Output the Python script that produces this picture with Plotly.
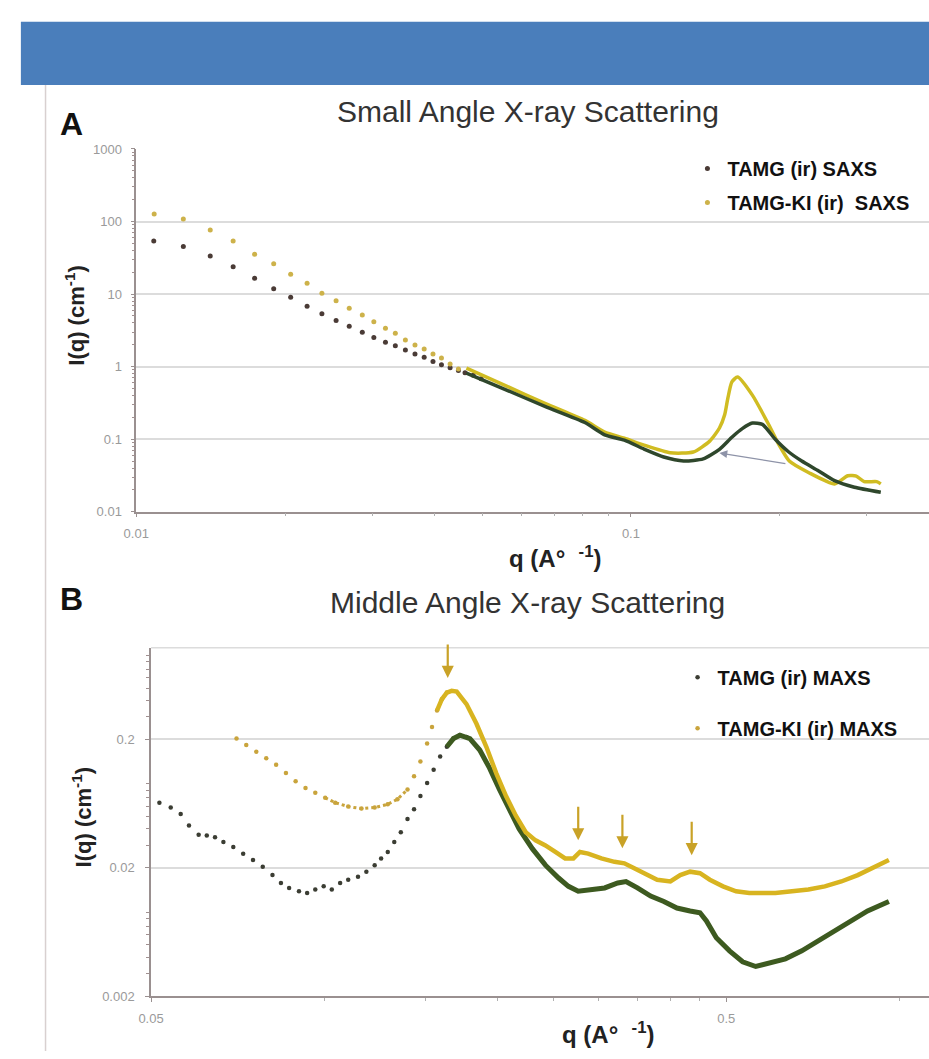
import numpy as np
import plotly.graph_objects as go

# ---------------- DATA ----------------
# Panel A: Small Angle X-ray Scattering (SAXS)
saxs_q_dots_tamg = [0.01085, 0.01245, 0.01411, 0.01570, 0.01735, 0.01896, 0.02052, 0.02215, 0.02373,
                    0.02535, 0.02695, 0.02864, 0.03022, 0.0319, 0.0334, 0.0350, 0.0366, 0.0382,
                    0.0398, 0.0414, 0.0431, 0.0448, 0.0462, 0.0480, 0.0498]
saxs_I_dots_tamg = [53.8, 45.4, 33.6, 23.8, 16.5, 11.8, 9.02, 6.8, 5.35, 4.33, 3.59, 2.97, 2.52, 2.17,
                    1.94, 1.69, 1.49, 1.35, 1.18, 1.06, 0.963, 0.888, 0.823, 0.759, 0.682]
saxs_q_dots_tamgki = [0.01087, 0.01245, 0.01411, 0.01570, 0.01735, 0.01896, 0.02052, 0.02215, 0.02373,
                      0.02535, 0.02695, 0.02864, 0.03022, 0.0319, 0.0334, 0.0350, 0.0366, 0.0382,
                      0.0398, 0.0414, 0.0431, 0.0448]
saxs_I_dots_tamgki = [126.5, 108, 76.6, 53.8, 35.3, 26.2, 18.7, 14.1, 10.3, 8.1, 6.4, 5.13, 4.16, 3.37,
                      2.88, 2.32, 1.98, 1.75, 1.49, 1.31, 1.09, 0.93]
saxs_q_line_tamg = [0.0465, 0.0559, 0.0672, 0.0807, 0.0885, 0.0970, 0.1063, 0.1165, 0.1278, 0.140,
                    0.151, 0.160, 0.1682, 0.176, 0.1844, 0.196, 0.2085, 0.2215, 0.2392, 0.258, 0.283, 0.32]
saxs_I_line_tamg = [0.816, 0.479, 0.281, 0.170, 0.115, 0.0969, 0.0731, 0.0569, 0.0502, 0.0535,
                    0.0724, 0.1065, 0.141, 0.1667, 0.160, 0.099, 0.0666, 0.050, 0.0367, 0.0268, 0.0218, 0.0186]
saxs_q_line_tamgki = [0.0465, 0.0559, 0.0672, 0.0807, 0.0885, 0.097, 0.1063, 0.120, 0.1337, 0.1443,
                      0.151, 0.1547, 0.157, 0.160, 0.1643, 0.176, 0.190, 0.199, 0.209, 0.2285, 0.258,
                      0.2745, 0.2855, 0.2962, 0.3138, 0.32]
saxs_I_line_tamgki = [0.955, 0.543, 0.309, 0.1815, 0.125, 0.103, 0.0828, 0.065, 0.0666, 0.094,
                      0.1426, 0.217, 0.365, 0.615, 0.72, 0.405, 0.158, 0.0847, 0.050, 0.0348, 0.0242,
                      0.0314, 0.031, 0.026, 0.026, 0.0242]
saxs_arrow_head = (0.151, 0.0646)
saxs_arrow_tail = (0.2067, 0.0457)

# Panel B: Middle Angle X-ray Scattering (MAXS)
maxs_q_tamg = [0.0517, 0.0541, 0.0563, 0.0582, 0.0605, 0.0625, 0.0646, 0.0668, 0.0695, 0.0723,
               0.0752, 0.0782, 0.0813, 0.0841, 0.0869, 0.0904, 0.0934, 0.0965, 0.0998, 0.1031,
               0.1066, 0.1101, 0.1145, 0.1184, 0.1224, 0.1256, 0.1290, 0.1324, 0.1359, 0.1396,
               0.1433, 0.1470, 0.1510, 0.1550, 0.1591, 0.1634, 0.1678, 0.1722, 0.1768, 0.1792,
               0.1864, 0.1939, 0.2017, 0.2098, 0.2183, 0.2301, 0.2425, 0.2556, 0.2659, 0.2765,
               0.2916, 0.3073, 0.3239, 0.3348, 0.3505, 0.3695, 0.3896, 0.4105, 0.4327, 0.4502,
               0.4620, 0.4806, 0.5067, 0.5340, 0.5628, 0.5934, 0.6338, 0.6768, 0.7229, 0.7720,
               0.8245, 0.8806, 0.9591]
maxs_I_tamg = [0.0641, 0.0587, 0.0522, 0.0425, 0.0360, 0.0356, 0.0345, 0.0316, 0.0289, 0.0257,
               0.0229, 0.0203, 0.0175, 0.0152, 0.0139, 0.0131, 0.0127, 0.0135, 0.0143, 0.0135,
               0.0152, 0.0161, 0.0170, 0.0186, 0.0209, 0.0236, 0.0265, 0.0316, 0.0377, 0.0478,
               0.0570, 0.0721, 0.0912, 0.1156, 0.1463, 0.1745, 0.2021, 0.2147, 0.2083, 0.2021,
               0.1647, 0.1190, 0.0812, 0.0570, 0.0400, 0.0281, 0.0209, 0.0166, 0.0143, 0.0131,
               0.0135, 0.0139, 0.0152, 0.0156, 0.0139, 0.0120, 0.0109, 0.0097, 0.0092, 0.0089,
               0.0077, 0.0057, 0.0045, 0.0037, 0.0034, 0.0036, 0.0039, 0.0045, 0.0054, 0.0064,
               0.0077, 0.0092, 0.0109]
maxs_q_tamgki = [0.0704, 0.0732, 0.0762, 0.0793, 0.0825, 0.0858, 0.0892, 0.0928, 0.0965, 0.1004,
                 0.1045, 0.1101, 0.1161, 0.1224, 0.1290, 0.1341, 0.1396, 0.1433, 0.1470, 0.1510,
                 0.1540, 0.1571, 0.1602, 0.1634, 0.1666, 0.1700, 0.1768, 0.1840, 0.1914, 0.1991,
                 0.2071, 0.2154, 0.2241, 0.2331, 0.2425, 0.2523, 0.2624, 0.2712, 0.2784, 0.2877,
                 0.3034, 0.3197, 0.3326, 0.3460, 0.3599, 0.3793, 0.3999, 0.4160, 0.4327, 0.4502,
                 0.4683, 0.4936, 0.5201, 0.5484, 0.5779, 0.6090, 0.6507, 0.6950, 0.7421, 0.7927,
                 0.8467, 0.9039, 0.9591]
maxs_I_tamgki = [0.2021, 0.1799, 0.1598, 0.1420, 0.1264, 0.1089, 0.0941, 0.0835, 0.0765, 0.0700,
                 0.0641, 0.0597, 0.0576, 0.0587, 0.0623, 0.0681, 0.0812, 0.1027, 0.1339, 0.1850,
                 0.2486, 0.3340, 0.4099, 0.4613, 0.4755, 0.4700, 0.3751, 0.2634, 0.1745, 0.1089,
                 0.0721, 0.0507, 0.0377, 0.0326, 0.0298, 0.0265, 0.0236, 0.0236, 0.0265, 0.0257,
                 0.0236, 0.0222, 0.0216, 0.0198, 0.0181, 0.0161, 0.0156, 0.0175, 0.0186, 0.0181,
                 0.0161, 0.0143, 0.0131, 0.0127, 0.0127, 0.0127, 0.0131, 0.0135, 0.0143, 0.0156,
                 0.0175, 0.0203, 0.0229]
maxs_arrow_q = [0.164, 0.2765, 0.330, 0.4355]
maxs_arrow_I = [0.60, 0.0326, 0.0283, 0.025]

saxs_yticks = [0.01, 0.1, 1, 10, 100, 1000]
saxs_yticktext = ["0.01", "0.1", "1", "10", "100", "1000"]
saxs_xticks = [0.01, 0.1]
saxs_xticktext = ["0.01", "0.1"]
maxs_yticks = [0.002, 0.02, 0.2]
maxs_yticktext = ["0.002", "0.02", "0.2"]
maxs_xticks = [0.05, 0.5]
maxs_xticktext = ["0.05", "0.5"]

# ---------------- STYLE ----------------
W, H = 929, 1059
FONT = "Liberation Sans"
DARK_DOT = "#4a3b36"
DARK_LINE = "#2f472c"
YEL_DOT = "#cdb24a"
YEL_LINE = "#d0bc22"
B_DARK_DOT = "#3b3d33"
B_DARK_LINE = "#3d5a20"
B_YEL_DOT = "#c9a43c"
B_YEL_LINE = "#d8b420"
GRID = "#dcdcdc"
AXIS = "#9a9090"
TICKFONT = dict(family=FONT, size=13, color="#9a9a9a")


def fx(p):
    return p / W


def fy(p):
    return 1 - p / H


fig = go.Figure()

# ---- Panel A traces ----
fig.add_trace(go.Scatter(x=saxs_q_dots_tamg, y=saxs_I_dots_tamg, mode="markers",
                         marker=dict(size=5, color=DARK_DOT), name="TAMG (ir) SAXS",
                         legend="legend", legendgroup="a1", xaxis="x", yaxis="y"))
fig.add_trace(go.Scatter(x=saxs_q_dots_tamgki, y=saxs_I_dots_tamgki, mode="markers",
                         marker=dict(size=5, color=YEL_DOT), name="TAMG-KI (ir)  SAXS",
                         legend="legend", legendgroup="a2", xaxis="x", yaxis="y"))
fig.add_trace(go.Scatter(x=saxs_q_line_tamgki, y=saxs_I_line_tamgki, mode="lines",
                         line=dict(color=YEL_LINE, width=3.5, shape="spline", smoothing=0.6),
                         showlegend=False, legendgroup="a2", xaxis="x", yaxis="y"))
fig.add_trace(go.Scatter(x=saxs_q_line_tamg, y=saxs_I_line_tamg, mode="lines",
                         line=dict(color=DARK_LINE, width=3.5, shape="spline", smoothing=0.6),
                         showlegend=False, legendgroup="a1", xaxis="x", yaxis="y"))

# ---- Panel B traces ----
qd = np.array(maxs_q_tamg)
Id = np.array(maxs_I_tamg)
qy = np.array(maxs_q_tamgki)
Iy = np.array(maxs_I_tamgki)
seg_y = (qy >= 0.1004) & (qy <= 0.1396)
fig.add_trace(go.Scatter(x=qy[seg_y], y=Iy[seg_y], mode="lines",
                         line=dict(color=B_YEL_DOT, width=3, dash="dot"),
                         showlegend=False, legendgroup="b2", xaxis="x2", yaxis="y2"))
fig.add_trace(go.Scatter(x=qd[qd <= 0.1768], y=Id[qd <= 0.1768], mode="markers",
                         marker=dict(size=4.5, color=B_DARK_DOT), name="TAMG (ir) MAXS",
                         legend="legend2", legendgroup="b1", xaxis="x2", yaxis="y2"))
fig.add_trace(go.Scatter(x=qy[qy <= 0.1634], y=Iy[qy <= 0.1634], mode="markers",
                         marker=dict(size=4.5, color=B_YEL_DOT), name="TAMG-KI (ir) MAXS",
                         legend="legend2", legendgroup="b2", xaxis="x2", yaxis="y2"))
fig.add_trace(go.Scatter(x=qd[qd >= 0.1634], y=Id[qd >= 0.1634], mode="lines",
                         line=dict(color=B_DARK_LINE, width=5),
                         showlegend=False, legendgroup="b1", xaxis="x2", yaxis="y2"))
fig.add_trace(go.Scatter(x=qy[qy >= 0.1571], y=Iy[qy >= 0.1571], mode="lines",
                         line=dict(color=B_YEL_LINE, width=4.5),
                         showlegend=False, legendgroup="b2", xaxis="x2", yaxis="y2"))

# minor tick positions (axis decoration)
minor_y_A = [m * 10.0 ** e for e in range(-2, 3) for m in range(2, 10)]
minor_x_A = [m * 0.01 for m in range(2, 10)] + [0.2, 0.3]
minor_y_B = [m * 10.0 ** e for e in range(-3, 0) for m in range(2, 10)]
minor_x_B = [0.05 * k for k in range(2, 10)] + [1.0]

common_axis = dict(showline=True, linecolor=AXIS, linewidth=1.5, tickfont=TICKFONT,
                   zeroline=False)

fig.update_layout(
    width=W, height=H, margin=dict(l=0, r=0, t=0, b=0),
    paper_bgcolor="white", plot_bgcolor="white",
    font=dict(family=FONT),
    xaxis=dict(domain=[fx(125), 1.0], type="log", range=[-2, -0.3974], anchor="y",
               tickmode="array", tickvals=saxs_xticks, ticktext=saxs_xticktext,
               showgrid=False, ticks="outside", ticklen=4, tickcolor=AXIS,
               minor=dict(tickmode="array", tickvals=minor_x_A, ticks="outside", ticklen=3,
                          tickcolor="#b0b0b0", showgrid=False),
               ticklabelstandoff=5, **common_axis),
    yaxis=dict(domain=[fy(512), fy(144)], type="log", range=[-2, 3], anchor="x",
               tickmode="array", tickvals=saxs_yticks, ticktext=saxs_yticktext,
               showgrid=True, gridcolor=GRID, gridwidth=1.5, ticks="outside", ticklen=4,
               tickcolor=AXIS,
               minor=dict(tickmode="array", tickvals=minor_y_A, ticks="outside", ticklen=3,
                          tickcolor="#a09090", showgrid=False),
               ticklabelstandoff=6, **common_axis),
    xaxis2=dict(domain=[fx(140), 1.0], type="log", range=[-1.30103, 0.0516], anchor="y2",
                tickmode="array", tickvals=maxs_xticks, ticktext=maxs_xticktext,
                showgrid=False, ticks="outside", ticklen=4, tickcolor=AXIS,
                minor=dict(tickmode="array", tickvals=minor_x_B, ticks="outside", ticklen=3,
                           tickcolor="#b0b0b0", showgrid=False),
                ticklabelstandoff=6, **common_axis),
    yaxis2=dict(domain=[fy(1003.3), fy(650)], type="log", range=[-2.69897, 0.0124], anchor="x2",
                tickmode="array", tickvals=maxs_yticks, ticktext=maxs_yticktext,
                showgrid=True, gridcolor=GRID, gridwidth=1.5, ticks="outside", ticklen=4,
                tickcolor=AXIS,
                minor=dict(tickmode="array", tickvals=minor_y_B, ticks="outside", ticklen=3,
                           tickcolor="#a09090", showgrid=False),
                ticklabelstandoff=8, **common_axis),
    legend=dict(x=fx(684), y=fy(144), xanchor="left", yanchor="top",
                font=dict(family=FONT, size=20, color="#111111", weight="bold"),
                bgcolor="rgba(255,255,255,0)", tracegroupgap=5, traceorder="grouped"),
    legend2=dict(x=fx(674), y=fy(660), xanchor="left", yanchor="top",
                 font=dict(family=FONT, size=20, color="#111111", weight="bold"),
                 bgcolor="rgba(255,255,255,0)", tracegroupgap=22, traceorder="grouped"),
)

shapes = [
    # blue banner
    dict(type="rect", xref="paper", yref="paper", x0=fx(8), x1=1.0, y0=fy(79), y1=fy(15),
         fillcolor="#4a7ebb", line=dict(width=0), layer="below"),
    # left frame line
    dict(type="line", xref="paper", yref="paper", x0=fx(33), x1=fx(33), y0=0, y1=fy(79),
         line=dict(color="#d8d0d0", width=1.5)),
    # top border of panel B plot area
    dict(type="line", xref="x2 domain", yref="y2 domain", x0=0, x1=1, y0=1, y1=1,
         line=dict(color=GRID, width=1.5)),
]
fig.update_layout(shapes=shapes)

ann = [
    dict(text="<b>A</b>", x=fx(59), y=fy(119), font=dict(size=32, color="#111")),
    dict(text="<b>B</b>", x=fx(59), y=fy(601), font=dict(size=32, color="#111")),
    dict(text="Small Angle X-ray Scattering", x=fx(522), y=fy(106),
         font=dict(size=30, color="#333")),
    dict(text="Middle Angle X-ray Scattering", x=fx(522), y=fy(604),
         font=dict(size=30, color="#333")),
    dict(text="<b>I(q) (cm<sup>-1</sup>)</b>", x=fx(62), y=fy(313), textangle=-90,
         font=dict(size=22, color="#222")),
    dict(text="<b>I(q) (cm<sup>-1</sup>)</b>", x=fx(70), y=fy(822), textangle=-90,
         font=dict(size=22, color="#222")),
    dict(text="<b>q (A°  <sup>-1</sup>)</b>", x=fx(550), y=fy(558),
         font=dict(size=24, color="#222")),
    dict(text="<b>q (A°  <sup>-1</sup>)</b>", x=fx(604), y=fy(1041),
         font=dict(size=24, color="#222")),
]
for a in ann:
    a.update(xref="paper", yref="paper", showarrow=False, xanchor="center", yanchor="middle")
    a["font"]["family"] = FONT

# gray arrow in panel A
ann.append(dict(x=np.log10(saxs_arrow_head[0]), y=np.log10(saxs_arrow_head[1]), xref="x", yref="y",
                ax=np.log10(saxs_arrow_tail[0]), ay=np.log10(saxs_arrow_tail[1]), axref="x", ayref="y",
                showarrow=True, arrowhead=2, arrowsize=1.2, arrowwidth=1.3, arrowcolor="#8e93a8",
                text=""))
# gold arrows in panel B
for q, I in zip(maxs_arrow_q, maxs_arrow_I):
    ann.append(dict(x=np.log10(q), y=np.log10(I), xref="x2", yref="y2", ax=0, ay=-35,
                    showarrow=True, arrowhead=2, arrowsize=1.1, arrowwidth=2.2,
                    arrowcolor="#c9a227", text=""))
fig.update_layout(annotations=ann)

fig.write_html("out.html", config={"displayModeBar": False},
               post_script="document.body.style.margin='0';document.body.style.overflow='hidden';")
